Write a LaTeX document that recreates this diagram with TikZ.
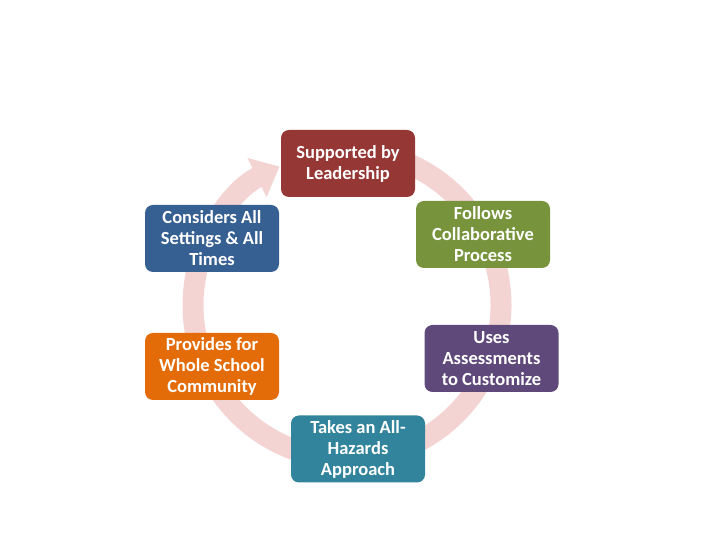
\documentclass[tikz,border=0pt]{standalone}
\usepackage{fontspec}
\setmainfont{Carlito}
\usetikzlibrary{arrows.meta}
\tikzset{>=latex}
\definecolor{ringpink}{HTML}{F4D3D3}
\definecolor{leadred}{HTML}{953735}
\definecolor{collabgreen}{HTML}{77933C}
\definecolor{assesspurple}{HTML}{5F497A}
\definecolor{hazardteal}{HTML}{31849B}
\definecolor{communityorange}{HTML}{E36C09}
\definecolor{settingsblue}{HTML}{376092}

\begin{document}
\begin{tikzpicture}[x=1pt,y=1pt,
    stagebox/.style={rectangle, rounded corners=8pt, minimum width=134pt,
      minimum height=67pt, inner sep=0pt, align=center, text=white,
      font=\bfseries\fontsize{18.5}{21}\selectfont}]
            \useasboundingbox (0,0) rectangle (720,540);
            % the cycle ring
            \draw[line width=21pt, ringpink, -{Triangle[width=42pt,length=25pt]}]
                ([shift={(85:154)}]347,235) arc[start angle=85, end angle=-244, radius=154];
            \node[stagebox, fill=leadred] (lead) at (348,376.5) {Supported by\\Leadership};
            \node[stagebox, fill=collabgreen] (collab) at (483,305.5) {Follows\\Collaborative\\Process};
            \node[stagebox, fill=assesspurple] (assess) at (491.5,181.5) {Uses\\Assessments\\to Customize};
            \node[stagebox, fill=hazardteal] (hazard) at (358,91) {Takes an All-\\Hazards\\Approach};
            \node[stagebox, fill=communityorange] (community) at (212,173.5) {Provides for\\Whole School\\Community};
            \node[stagebox, fill=settingsblue] (settings) at (212,301.5) {Considers All\\Settings \& All\\Times};
        \end{tikzpicture}
\end{document}
